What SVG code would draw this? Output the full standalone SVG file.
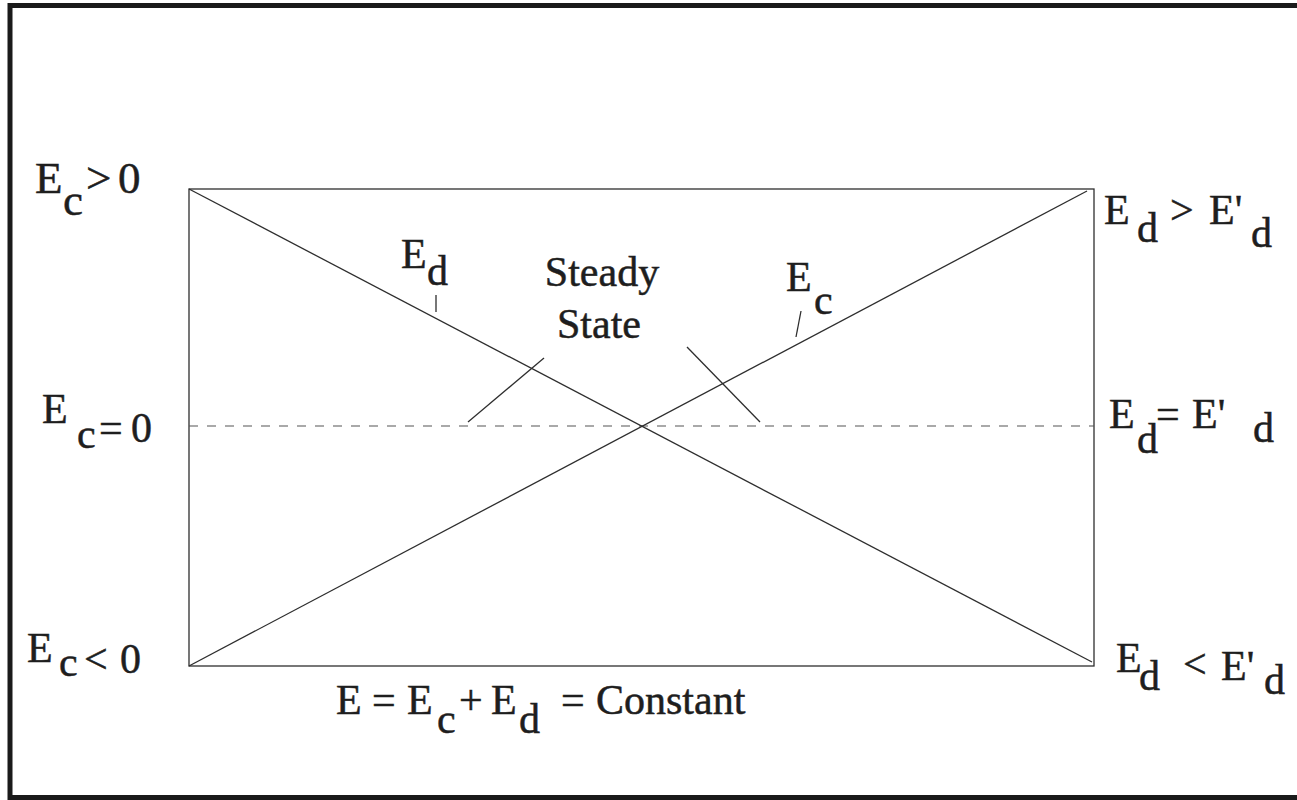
<svg xmlns="http://www.w3.org/2000/svg" width="1297" height="800" viewBox="0 0 1297 800">
<style>
text{font-family:"Liberation Serif","Times New Roman",serif;font-size:42px;fill:#1e1e1e;stroke:#1e1e1e;stroke-width:0.5}
.big{font-size:45px}
.ln{stroke:#2e2e2e;stroke-width:1.3;fill:none}
.dash{stroke:#555;stroke-width:1.1;stroke-dasharray:9 9;fill:none}
</style>
<rect width="1297" height="800" fill="#fff"/>
<g id="frame">
<path d="M1297,5.5 H10 V797.5 H1297" fill="none" stroke="#1a1a1a" stroke-width="5"/>
</g>
<g id="plot">
<rect x="189" y="189" width="905" height="477" class="ln"/>
<line x1="189" y1="426" x2="1094" y2="426" class="dash"/>
</g>
<g id="connectors">
<line x1="189" y1="189" x2="1092" y2="662" class="ln"/>
<line x1="189" y1="666" x2="1087" y2="191" class="ln"/>
<line x1="436" y1="295" x2="436" y2="312" class="ln"/>
<line x1="801" y1="311" x2="796" y2="337" class="ln"/>
<line x1="468" y1="422" x2="544" y2="358" class="ln"/>
<line x1="687" y1="347" x2="760" y2="422" class="ln"/>
</g>
<g id="label-ec-pos">
<text class="big" x="35" y="193">E</text>
<text class="big" x="63" y="215">c</text>
<text class="big" x="86" y="193">&gt;</text>
<text class="big" x="118" y="193">0</text>
</g>
<g id="label-ec-zero">
<text x="42" y="423">E</text>
<text x="77" y="448">c</text>
<text x="99" y="442">=</text>
<text x="131" y="442">0</text>
</g>
<g id="label-ec-neg">
<text x="27" y="662">E</text>
<text x="59" y="676">c</text>
<text x="84" y="673">&lt;</text>
<text x="120" y="673">0</text>
</g>
<g id="label-ed-gt">
<text x="1104" y="224">E</text>
<text x="1137" y="242">d</text>
<text x="1170" y="224">&gt;</text>
<text x="1209" y="224">E'</text>
<text x="1251" y="247">d</text>
</g>
<g id="label-ed-eq">
<text x="1109" y="428">E</text>
<text x="1137" y="453">d</text>
<text x="1156" y="428">=</text>
<text x="1192" y="428">E'</text>
<text x="1253" y="442">d</text>
</g>
<g id="label-ed-lt">
<text x="1116" y="672">E</text>
<text x="1139" y="690">d</text>
<text x="1183" y="678">&lt;</text>
<text x="1221" y="680">E'</text>
<text x="1264" y="694">d</text>
</g>
<g id="label-total">
<text x="336" y="714">E</text>
<text x="372" y="714">=</text>
<text x="407" y="714">E</text>
<text x="437" y="733">c</text>
<text x="459" y="714">+</text>
<text x="491" y="714">E</text>
<text x="519" y="733">d</text>
<text x="561" y="714">=</text>
<text x="596" y="714">Constant</text>
</g>
<g id="label-ed-line">
<text x="401" y="268">E</text>
<text x="427" y="285">d</text>
</g>
<g id="label-ec-line">
<text x="786" y="291">E</text>
<text x="814" y="314">c</text>
</g>
<g id="label-steady">
<text x="602" y="286" text-anchor="middle">Steady</text>
<text x="599" y="338" text-anchor="middle">State</text>
</g>
</svg>
